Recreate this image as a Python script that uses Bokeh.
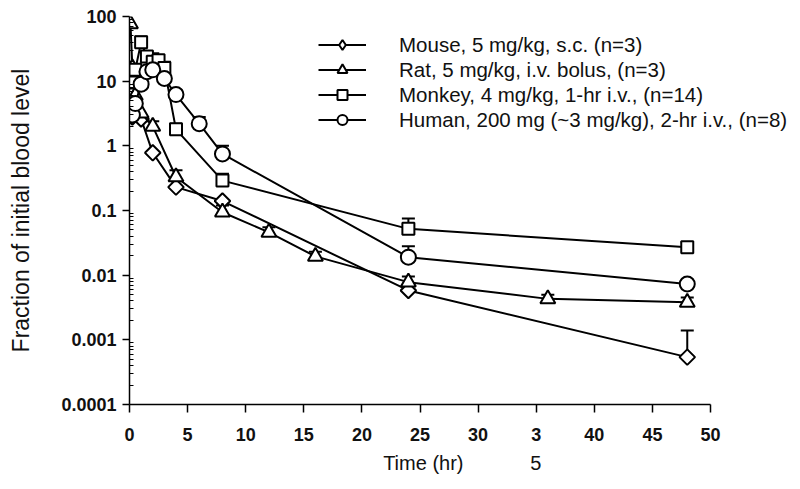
import math
from bokeh.plotting import figure
from bokeh.models import (FixedTicker, Legend, LegendItem, Whisker, ColumnDataSource,
                          TeeHead)
from bokeh.embed import file_html
from bokeh.resources import INLINE

# ---------------- data ----------------
mouse_t = [0.25, 0.5, 1, 2, 4, 8, 24, 48]
mouse_v = [2.8, 3.8, 2.6, 0.78, 0.23, 0.14, 0.0058, 0.00054]
mouse_hi = [None, None, None, None, None, None, None, 0.0014]

rat_t = [0.083, 0.25, 0.5, 1, 2, 4, 8, 12, 16, 24, 36, 48]
rat_v = [77, 16, 6.0, 3.2, 2.0, 0.33, 0.094, 0.046, 0.0195, 0.0078, 0.0043, 0.0038]
rat_hi = [None, None, None, None, 2.4, 0.42, 0.12, 0.055, 0.023, 0.0095, 0.005, 0.0045]

monkey_t = [0.25, 0.5, 1, 1.5, 2, 2.5, 3, 4, 8, 24, 48]
monkey_v = [9.5, 15, 40, 24, 20, 21, 16, 1.8, 0.29, 0.052, 0.027]
monkey_hi = [None, None, 49, None, 27, None, 20, 2.2, 0.37, 0.075, 0.032]

human_t = [0.25, 0.5, 1, 1.5, 2, 3, 4, 6, 8, 24, 48]
human_v = [3.0, 4.5, 9.0, 14, 15, 11, 6.2, 2.2, 0.75, 0.019, 0.0073]
human_hi = [None, None, None, None, 18, 13, 7.3, 2.8, 1.0, 0.028, 0.0085]

labels = ["Mouse, 5 mg/kg, s.c. (n=3)",
          "Rat, 5 mg/kg, i.v. bolus, (n=3)",
          "Monkey, 4 mg/kg, 1-hr i.v., (n=14)",
          "Human, 200 mg (~3 mg/kg), 2-hr i.v., (n=8)"]

x_ticks = [0, 5, 10, 15, 20, 25, 30, 35, 40, 45, 50]
# the reference wraps the "35" tick label: "3" sits at the tick, "5" drops to the title line
x_tick_overrides = {35: "3"}
x_title = "Time (hr)" + "\u00a0" * 12 + "5" + "\u00a0" * 1
y_ticks = [0.0001, 0.001, 0.01, 0.1, 1, 10, 100]
y_tick_labels = ["0.0001", "0.001", "0.01", "0.1", "1", "10", "100"]

FONT = "Liberation Sans"
INK = "#111111"

# frame: x 0..50 spans 581 px; extra room on the right keeps the legend text unclipped
W, H = 800, 486
LEFT, TOP, BOTTOM = 129, 16, 82
px_per_hr = 581 / 50.0
x_end = (W - LEFT) / px_per_hr

p = figure(width=W, height=H, y_axis_type="log",
           x_range=(0, x_end), y_range=(1e-4, 100),
           output_backend="svg", toolbar_location=None,
           min_border_left=LEFT, min_border_right=0,
           min_border_top=TOP, min_border_bottom=BOTTOM)
p.outline_line_color = None
p.xgrid.grid_line_color = None
p.ygrid.grid_line_color = None
p.background_fill_color = "white"

# marker, size, angle (plot) and marker for the legend swatch
series = [
    (mouse_t, mouse_v, mouse_hi, "square", 11, math.pi / 4, "diamond"),
    (rat_t, rat_v, rat_hi, "triangle", 15, 0.0, "triangle"),
    (monkey_t, monkey_v, monkey_hi, "square", 12, 0.0, "square"),
    (human_t, human_v, human_hi, "circle", 15, 0.0, "circle"),
]

items = []
for (t, v, hi, marker, size, ang, lmarker), lab in zip(series, labels):
    ln = p.line(t, v, line_color="black", line_width=2)
    et = [a for a, h in zip(t, hi) if h is not None]
    ev = [b for b, h in zip(v, hi) if h is not None]
    eh = [h for h in hi if h is not None]
    esrc = ColumnDataSource(dict(x=et, lo=ev, hi=eh))
    w = Whisker(source=esrc, base="x", lower="lo", upper="hi",
                upper_head=TeeHead(size=13, line_color="black", line_width=2),
                lower_head=None, line_color="black", line_width=2)
    p.add_layout(w)
    sc = p.scatter(t, v, marker=marker, size=size, angle=ang,
                   fill_color="white", line_color="black", line_width=2)
    if lmarker != marker:
        # legend-only swatch (hidden in the plot)
        sw = p.scatter(t, v, marker=lmarker, size=size, fill_color="white",
                       line_color="black", line_width=2, visible=False)
        rends = [ln, sw]
    else:
        rends = [ln, sc]
    items.append(LegendItem(label=lab, renderers=rends))

legend = Legend(items=items, location=(189, 272), orientation="vertical",
                glyph_width=48, glyph_height=25, spacing=0, padding=0, margin=0,
                label_standoff=33, label_text_font=FONT,
                label_text_font_size="20.5px", label_text_color=INK,
                background_fill_alpha=0, border_line_alpha=0,
                click_policy="none")
p.add_layout(legend)

# x axis
xa = p.xaxis[0]
xa.bounds = (0, 50)
xa.ticker = FixedTicker(ticks=x_ticks)
xa.major_label_overrides = x_tick_overrides
xa.minor_tick_line_color = None
xa.major_tick_out = 8
xa.major_tick_in = 0
xa.major_label_standoff = 15
xa.major_label_text_font = FONT
xa.major_label_text_font_size = "18px"
xa.major_label_text_font_style = "bold"
xa.major_label_text_color = INK
xa.axis_line_color = "black"
xa.axis_line_width = 1.5
xa.major_tick_line_width = 1.5
xa.axis_label = x_title
xa.axis_label_text_font = FONT
xa.axis_label_text_font_size = "20px"
xa.axis_label_text_font_style = "normal"
xa.axis_label_text_color = INK
xa.axis_label_standoff = 8

# y axis
ya = p.yaxis[0]
minor = [m * d for d in y_ticks[:-1] for m in range(2, 10)]
ya.ticker = FixedTicker(ticks=y_ticks, minor_ticks=minor)
ya.major_label_overrides = {t: s for t, s in zip(y_ticks, y_tick_labels)}
ya.major_tick_out = 7
ya.major_tick_in = 0
ya.minor_tick_in = 4
ya.minor_tick_out = 0
ya.major_label_standoff = 6
ya.major_label_text_font = FONT
ya.major_label_text_font_size = "18px"
ya.major_label_text_font_style = "bold"
ya.major_label_text_color = INK
ya.axis_label = "Fraction of initial blood level"
ya.axis_label_text_font = FONT
ya.axis_label_text_font_size = "23px"
ya.axis_label_text_font_style = "normal"
ya.axis_label_text_color = INK
ya.axis_label_standoff = 24
ya.axis_line_width = 1.5
ya.major_tick_line_width = 1.5

open("out.html", "w").write(file_html(p, INLINE))
